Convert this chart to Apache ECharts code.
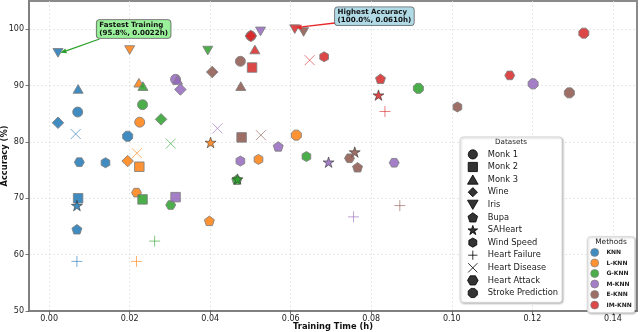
<!DOCTYPE html>
<html><head><meta charset="utf-8">
<script src="https://cdn.jsdelivr.net/npm/echarts@6/dist/echarts.min.js"></script>
<style>html,body{margin:0;padding:0;background:#fff}#c{width:640px;height:332px}</style>
</head><body><div id="c"></div>
<script>
// ---------- data ----------
const datasets = ['Monk 1','Monk 2','Monk 3','Wine','Iris','Bupa','SAHeart','Wind Speed','Heart Failure','Heart Disease','Heart Attack','Stroke Prediction'];
const methods = ['KNN','L-KNN','G-KNN','M-KNN','E-KNN','IM-KNN'];
// values in dataset order above: [training time (h)] and [accuracy (%)]
const knnTime   = [0.0071, 0.0072, 0.0072, 0.0022, 0.0022, 0.0069, 0.0069, 0.0140, 0.0069, 0.0066, 0.0075, 0.0195];
const knnAcc    = [85.3, 70.0, 89.4, 83.4, 95.8, 64.5, 68.7, 76.3, 58.8, 81.4, 76.4, 81.0];
const lknnTime  = [0.0225, 0.0224, 0.0223, 0.0195, 0.0200, 0.0398, 0.0401, 0.0520, 0.0217, 0.0218, 0.0217, 0.0614];
const lknnAcc   = [83.5, 75.6, 90.5, 76.6, 96.3, 66.0, 79.9, 76.9, 58.8, 78.0, 71.0, 81.2];
const gknnTime  = [0.0232, 0.0232, 0.0233, 0.0278, 0.0394, 0.0466, 0.0468, 0.0639, 0.0262, 0.0302, 0.0302, 0.0917];
const gknnAcc   = [86.6, 69.8, 89.9, 84.0, 96.2, 73.3, 73.4, 77.4, 62.4, 79.7, 68.8, 89.5];
const mknnTime  = [0.0314, 0.0314, 0.0319, 0.0326, 0.0525, 0.0569, 0.0694, 0.0475, 0.0756, 0.0418, 0.0857, 0.1202];
const mknnAcc   = [91.1, 70.2, 91.0, 89.3, 99.6, 79.2, 76.4, 76.6, 66.7, 82.4, 76.3, 90.3];
const eknnTime  = [0.0475, 0.0478, 0.0476, 0.0405, 0.0632, 0.0766, 0.0759, 0.1014, 0.0871, 0.0526, 0.0746, 0.1292];
const eknnAcc   = [94.3, 80.8, 89.9, 92.4, 99.5, 75.5, 78.2, 86.2, 68.7, 81.2, 77.1, 88.7];
const imknnTime = [0.0501, 0.0504, 0.0511, 0.0501, 0.0610, 0.0823, 0.0818, 0.0683, 0.0834, 0.0647, 0.1144, 0.1328];
const imknnAcc  = [98.8, 93.2, 96.4, 98.8, 100.0, 91.2, 88.3, 95.1, 85.4, 94.5, 91.8, 99.3];
const xTicks = [0, 0.02, 0.04, 0.06, 0.08, 0.10, 0.12, 0.14];
const yTicks = [50, 60, 70, 80, 90, 100];

// ---------- styles ----------
const FONT = 'DejaVu Sans';
const colors = ['#1f77b4','#ff7f0e','#2ca02c','#9467bd','#8c564b','#d62728'];
const times = [knnTime, lknnTime, gknnTime, mknnTime, eknnTime, imknnTime];
const accs = [knnAcc, lknnAcc, gknnAcc, mknnAcc, eknnAcc, imknnAcc];
const SYM = {
  square: 'path://M0,0L100,0L100,100L0,100Z',
  triUp: 'path://M50,0L100,86.6L0,86.6Z',
  diamond: 'path://M50,0L100,50L50,100L0,50Z',
  triDown: 'path://M0,0L100,0L50,86.6Z',
  pent: 'path://M50,0L97.55,34.55L79.39,90.45L20.61,90.45L2.45,34.55Z',
  star: 'path://M50,0L61.23,34.55L97.55,34.55L68.16,55.9L79.39,90.45L50,69.1L20.61,90.45L31.84,55.9L2.45,34.55L38.77,34.55Z',
  hex: 'path://M50,0L93.3,25L93.3,75L50,100L6.7,75L6.7,25Z',
  hex2: 'path://M25,6.7L75,6.7L100,50L75,93.3L25,93.3L0,50Z',
  oct: 'path://M29.3,0L70.7,0L100,29.3L100,70.7L70.7,100L29.3,100L0,70.7L0,29.3Z',
  plus: 'path://M50,0L50,100M0,50L100,50',
  cross: 'path://M0,0L100,100M100,0L0,100'
};
const markerOf = ['circle',SYM.square,SYM.triUp,SYM.diamond,SYM.triDown,SYM.pent,SYM.star,SYM.hex,SYM.plus,SYM.cross,SYM.hex2,SYM.oct];
const sizeOf = [10, 9.5, 10, 11.5, 10, 10, 11, 10, 11, 10, 10, 10];
const isLine = [false,false,false,false,false,false,false,false,true,true,false,false];
const isStar = [false,false,false,false,false,false,true,false,false,false,false,false];

const series = [];
methods.forEach((m, mi) => {
  const c = colors[mi];
  const data = datasets.map((d, di) => {
    let st;
    if (isLine[di]) st = {color: c, borderColor: c, borderWidth: 1, opacity: 0.6};
    else if (isStar[di]) st = {color: c, borderColor: '#333', borderWidth: 0.7, opacity: 0.85};
    else st = {color: c, borderColor: '#7f7f7f', borderWidth: 1, opacity: 0.85};
    return {name: d, value: [times[mi][di], accs[mi][di]], symbol: markerOf[di], symbolSize: sizeOf[di], itemStyle: st};
  });
  series.push({
    type: 'scatter', name: m, data: data, symbolKeepAspect: true,
    itemStyle: {color: c, borderColor: '#7f7f7f', borderWidth: 0.8, opacity: 0.85},
    emphasis: {disabled: true}, z: 2
  });
});
datasets.forEach((d, di) => {
  series.push({
    type: 'scatter', name: d, data: [], symbol: markerOf[di], symbolKeepAspect: true,
    itemStyle: {color: '#000', borderColor: '#000', borderWidth: 1}
  });
});

const chart = echarts.init(document.getElementById('c'), null, {renderer: 'canvas'});
const option = {
  animation: false,
  backgroundColor: '#fff',
  grid: {left: 29, right: 3, top: 1, bottom: 21, outerBoundsMode: 'none', containLabel: false,
    show: true, borderColor: '#8a8a8a', borderWidth: 2, backgroundColor: 'transparent'},
  xAxis: {
    type: 'value', min: -0.005, max: 0.146,
    name: 'Training Time (h)', nameLocation: 'middle', nameGap: 11.5, nameMoveOverlap: false,
    nameTextStyle: {fontFamily: FONT, fontSize: 8.3, fontWeight: 'bold', color: '#111'},
    axisLine: {show: true, onZero: false, lineStyle: {color: '#808080', width: 2}},
    axisTick: {show: true, length: 3.5, customValues: xTicks, lineStyle: {color: '#555', width: 0.8}},
    axisLabel: {customValues: xTicks, formatter: v => v.toFixed(2), fontFamily: FONT, fontSize: 8, color: '#222', margin: 4},
    splitLine: {show: true, lineStyle: {color: '#e2e2e2', width: 0.8, type: [2, 2]}}
  },
  yAxis: {
    type: 'value', min: 50, max: 105,
    name: 'Accuracy (%)', nameLocation: 'middle', nameGap: 20, nameMoveOverlap: false,
    nameTextStyle: {fontFamily: FONT, fontSize: 8.3, fontWeight: 'bold', color: '#111'},
    axisLine: {show: true, onZero: false, lineStyle: {color: '#808080', width: 2}},
    axisTick: {show: true, length: 3.5, customValues: yTicks, lineStyle: {color: '#555', width: 0.8}},
    axisLabel: {customValues: yTicks, fontFamily: FONT, fontSize: 8, color: '#222', margin: 5},
    splitLine: {show: true, lineStyle: {color: '#e2e2e2', width: 0.8, type: [2, 2]}}
  },
  legend: [
    {
      id: 'ds', data: datasets, orient: 'vertical', left: 460, top: 137,
      padding: [12.3, 4, 4.3, 7], itemWidth: 20, itemHeight: 9.2, itemGap: 2.4, selectedMode: false,
      symbolKeepAspect: true,
      textStyle: {fontFamily: FONT, fontSize: 8.3, color: '#1a1a1a', lineHeight: 10},
      itemStyle: {borderWidth: 1},
      backgroundColor: '#fff', borderColor: '#cfcfcf', borderWidth: 0.8, borderRadius: 3,
      shadowBlur: 2, shadowColor: 'rgba(0,0,0,0.25)', shadowOffsetX: 1, shadowOffsetY: 1, z: 20
    },
    {
      id: 'mt', data: methods, icon: 'circle', orient: 'vertical', left: 587.3, top: 236.7,
      padding: [11.3, 3, 3.3, 3], itemWidth: 13.4, itemHeight: 8, itemGap: 1.74, selectedMode: false,
      textStyle: {fontFamily: FONT, fontSize: 6, fontWeight: 'bold', color: '#222', lineHeight: 8},
      itemStyle: {borderWidth: 0.8, borderColor: '#7f7f7f'},
      backgroundColor: '#fff', borderColor: '#cfcfcf', borderWidth: 0.8, borderRadius: 3,
      shadowBlur: 2, shadowColor: 'rgba(0,0,0,0.25)', shadowOffsetX: 1, shadowOffsetY: 1, z: 20
    }
  ],
  series: series
};
chart.setOption(option);

// ---------- annotations ----------
function arrow(id, x1, y1, x2, y2, color) {
  const dx = x2 - x1, dy = y2 - y1, L = Math.hypot(dx, dy), ux = dx / L, uy = dy / L;
  const hl = 6, hw = 2.6;
  const bx = x2 - ux * hl, by = y2 - uy * hl;
  return [
    {type: 'line', id: id + 'l', shape: {x1: x1, y1: y1, x2: bx, y2: by}, style: {stroke: color, lineWidth: 1.3}, z: 50},
    {type: 'polygon', id: id + 'h', shape: {points: [[x2, y2], [bx - uy * hw, by + ux * hw], [bx + uy * hw, by - ux * hw]]}, style: {fill: color}, z: 50}
  ];
}
const fi = 4; // Iris index
const pF = chart.convertToPixel({gridIndex: 0}, [knnTime[fi], knnAcc[fi]]);
const pH = chart.convertToPixel({gridIndex: 0}, [imknnTime[fi], imknnAcc[fi]]);
const boxStyle = {fontFamily: FONT, fontSize: 7.1, fontWeight: 'bold', lineHeight: 8, fill: '#111',
  borderColor: '#666', borderWidth: 0.8, borderRadius: 3, padding: [1, 2.6, 1, 2.6],
  align: 'left', verticalAlign: 'top', textAlign: 'left', textVerticalAlign: 'top'};
const graphic = [
  {type: 'text', id: 'tDs', x: 511, y: 142, z: 100, style: {text: 'Datasets', fontFamily: FONT, fontSize: 7.2, fill: '#1a1a1a', align: 'center', verticalAlign: 'middle', textAlign: 'center', textVerticalAlign: 'middle'}},
  {type: 'text', id: 'tMt', x: 611, y: 242, z: 100, style: {text: 'Methods', fontFamily: FONT, fontSize: 7.4, fill: '#1a1a1a', align: 'center', verticalAlign: 'middle', textAlign: 'center', textVerticalAlign: 'middle'}},
  {type: 'text', id: 'bF', x: 96.7, y: 20, z: 60, style: Object.assign({}, boxStyle, {
    text: 'Fastest Training\n(' + knnAcc[fi].toFixed(1) + '%, ' + knnTime[fi].toFixed(4) + 'h)',
    backgroundColor: 'rgba(144,238,144,0.9)'})},
  {type: 'text', id: 'bH', x: 335, y: 7.3, z: 60, style: Object.assign({}, boxStyle, {
    text: 'Highest Accuracy\n(' + imknnAcc[fi].toFixed(1) + '%, ' + imknnTime[fi].toFixed(4) + 'h)',
    backgroundColor: 'rgba(173,216,230,0.95)'})}
].concat(arrow('aF', 99.5, 39, pF[0] + 2.5, pF[1], '#2ca02c'))
 .concat(arrow('aH', 335, 23, pH[0] + 1, pH[1] - 1.5, '#e8282a'));
chart.setOption({graphic: graphic});
</script>
</body></html>
